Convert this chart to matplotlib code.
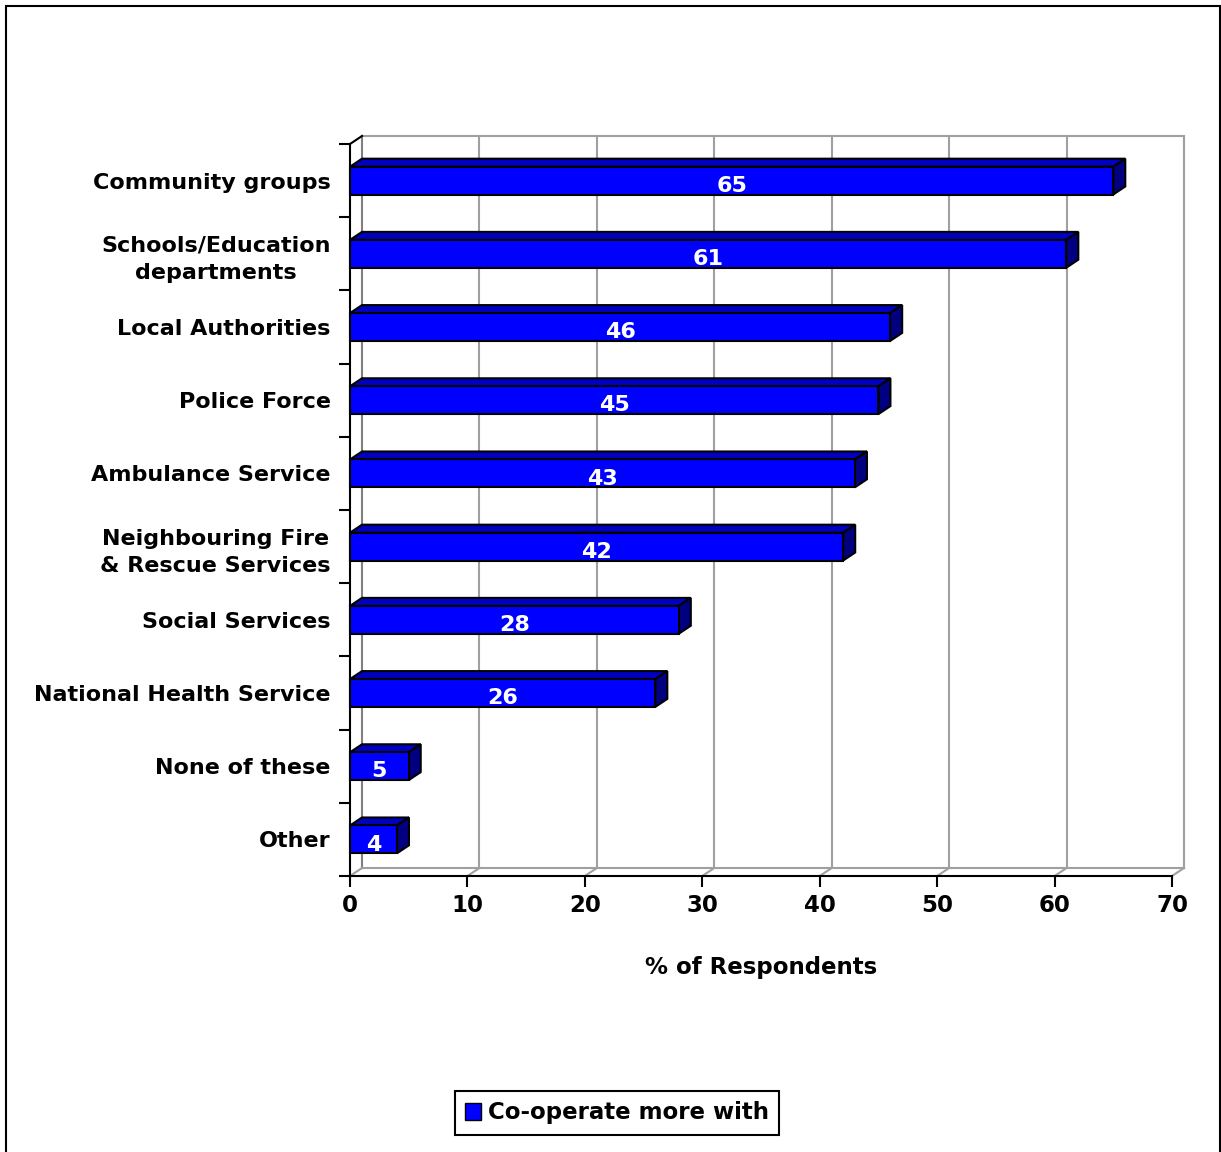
import matplotlib.pyplot as plt
from matplotlib.patches import Polygon, Rectangle, Patch

# data, top to bottom as in the chart
categories = ['Community groups', 'Schools/Education\ndepartments', 'Local Authorities',
              'Police Force', 'Ambulance Service', 'Neighbouring Fire\n& Rescue Services',
              'Social Services', 'National Health Service', 'None of these', 'Other']
values = [65, 61, 46, 45, 43, 42, 28, 26, 5, 4]
xticks = [0, 10, 20, 30, 40, 50, 60, 70]

plt.rcParams['font.family'] = 'DejaVu Sans'
plt.rcParams['font.weight'] = 'bold'

fig = plt.figure(figsize=(12.21, 11.52), dpi=100)
ax = fig.add_axes([350 / 1221, 1 - 876 / 1152, 822 / 1221, 732 / 1152])

n = len(categories)
ax.set_xlim(0, 70)
ax.set_ylim(0, n)

# 3d depth in data units
dx = 12 / (822 / 70)
dy = 8 / (732 / n)
grid_c = '#a0a0a0'

# back wall and floor
ax.plot([dx, 70 + dx, 70 + dx], [n + dy, n + dy, dy], color=grid_c, lw=1.5, clip_on=False, zorder=1)
ax.plot([dx, 70 + dx], [dy, dy], color=grid_c, lw=1.5, clip_on=False, zorder=1)
ax.plot([dx, dx], [dy, n + dy], color='#808080', lw=1.5, clip_on=False, zorder=1)
for t in xticks:
    ax.plot([t, t + dx], [0, dy], color=grid_c, lw=1.5, clip_on=False, zorder=1)
    if t > 0:
        ax.plot([t + dx, t + dx], [dy, n + dy], color=grid_c, lw=1.5, clip_on=False, zorder=1)
ax.plot([0, dx], [n, n + dy], color='black', lw=1.5, clip_on=False, zorder=1)

# bars
h = 0.19
for i, v in enumerate(values):
    c = n - i - 0.5
    front = Rectangle((0, c - h), v, 2 * h, facecolor='#0000ff', edgecolor='black', lw=1.5, zorder=3, clip_on=False)
    top = Polygon([(0, c + h), (v, c + h), (v + dx, c + h + dy), (dx, c + h + dy)],
                  facecolor='#0000c0', edgecolor='black', lw=1.5, zorder=3, clip_on=False)
    side = Polygon([(v, c - h), (v + dx, c - h + dy), (v + dx, c + h + dy), (v, c + h)],
                   facecolor='#000080', edgecolor='black', lw=1.5, zorder=3, clip_on=False)
    ax.add_patch(top)
    ax.add_patch(side)
    ax.add_patch(front)
    ax.text(v / 2, c - 0.07, str(v), color='white', fontsize=16, fontweight='bold',
            ha='center', va='center', zorder=4)

# axes
for s in ['top', 'right']:
    ax.spines[s].set_visible(False)
for s in ['left', 'bottom']:
    ax.spines[s].set_linewidth(1.5)
    ax.spines[s].set_zorder(5)

ax.set_xticks(xticks)
ax.set_xticklabels([str(t) for t in xticks], fontsize=16.5, fontweight='bold')
ax.tick_params(axis='x', direction='out', length=8, width=1.5, pad=5)

ax.set_yticks([n - i - 0.5 for i in range(n)])
ax.set_yticklabels(categories, fontsize=16, fontweight='bold', linespacing=1.45)
for lab in ax.get_yticklabels():
    lab.set_multialignment('center')
ax.set_yticks(range(n + 1), minor=True)
ax.tick_params(axis='y', which='major', length=0, pad=14)
ax.tick_params(axis='y', which='minor', direction='out', length=8, width=1.5)

ax.set_xlabel('% of Respondents', fontsize=16.5, fontweight='bold', labelpad=28)

leg = fig.legend(handles=[Patch(facecolor='#0000ff', edgecolor='black', label='Co-operate more with')],
                 loc='center', bbox_to_anchor=(617 / 1221, 1 - 1113 / 1152),
                 frameon=True, fancybox=False, framealpha=1, edgecolor='black',
                 handlelength=0.7, handleheight=0.7, handletextpad=0.3, borderpad=0.45,
                 prop={'weight': 'bold', 'size': 16.5})
leg.get_frame().set_linewidth(1.5)

# outer frame
fig.add_artist(Rectangle((6 / 1221, -0.05), 1214 / 1221, 1 - 6 / 1152 + 0.05, transform=fig.transFigure,
                         fill=False, edgecolor='black', lw=1.5))

fig.savefig('out.png', dpi=100)
